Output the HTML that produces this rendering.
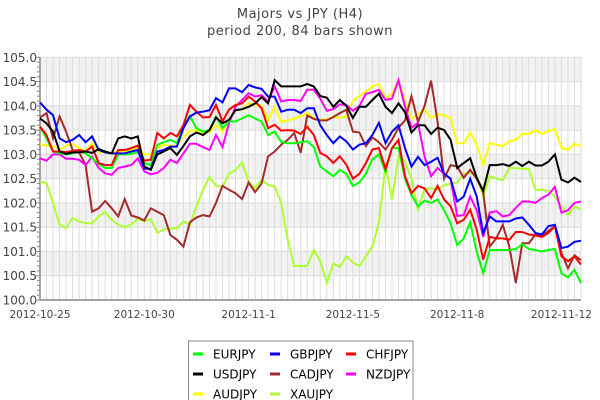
<!DOCTYPE html>
<html><head><meta charset="utf-8">
<style>
html,body{margin:0;padding:0;background:#fff;}
svg{display:block;font-family:"DejaVu Sans","Liberation Sans",sans-serif;}
</style></head>
<body>
<svg id="chart" width="600" height="400" viewBox="0 0 600 400" xmlns="http://www.w3.org/2000/svg">
<text x="300" y="18" text-anchor="middle" font-size="13" fill="#444" letter-spacing="0.5">Majors vs JPY (H4)</text>
<text x="300" y="35" text-anchor="middle" font-size="13" fill="#444" letter-spacing="0.5">period 200, 84 bars shown</text>
<g id="plot"></g>
<g id="legend"></g>
</svg>
<script>
const xTickLabels = ["2012-10-25","2012-10-30","2012-11-1","2012-11-5","2012-11-8","2012-11-12"];
const xTickIndex = [0,16,32,48,64,80];
const yTicks = [100.0,100.5,101.0,101.5,102.0,102.5,103.0,103.5,104.0,104.5,105.0];
const seriesNames = ["EURJPY","GBPJPY","CHFJPY","USDJPY","CADJPY","NZDJPY","AUDJPY","XAUJPY"];
const EURJPY = [103.57,103.33,103.06,103.02,103.0,103.02,103.06,103.02,102.92,102.8,102.72,102.72,103.0,103.0,103.01,103.05,102.82,102.78,103.2,103.25,
103.3,103.23,103.57,103.79,103.54,103.47,103.5,103.78,103.54,103.68,103.68,103.74,103.81,103.74,103.68,103.4,103.47,103.26,103.23,103.23,
103.25,103.27,103.15,102.75,102.65,102.55,102.68,102.6,102.35,102.42,102.6,102.9,103.0,102.65,103.13,103.13,102.5,102.16,101.93,102.05,102.0,102.07,101.85,101.58,101.13,101.27,101.6,101.0,100.55,101.03,101.03,101.03,101.03,101.05,101.15,101.05,101.03,101.0,101.03,101.05,100.55,100.47,100.62,100.35];
const GBPJPY = [104.07,103.92,103.81,103.33,103.25,103.3,103.4,103.25,103.37,103.09,103.04,103.02,103.02,103.02,103.06,103.09,102.71,102.7,103.06,103.09,
103.16,103.16,103.54,103.78,103.86,103.88,103.91,104.16,104.07,104.36,104.36,104.28,104.43,104.38,104.35,104.19,104.19,103.88,103.92,103.92,
103.85,103.95,103.95,103.6,103.4,103.23,103.37,103.27,103.1,103.2,103.23,103.4,103.65,103.23,103.47,103.6,103.13,102.75,102.95,102.78,102.85,102.93,102.6,102.5,102.03,102.13,102.5,102.13,101.38,101.72,101.62,101.62,101.62,101.68,101.7,101.55,101.38,101.35,101.52,101.55,101.07,101.1,101.2,101.22];
const CHFJPY = [103.57,103.4,103.06,103.06,103.05,103.07,103.09,103.06,103.16,102.82,102.78,102.78,103.09,103.09,103.13,103.18,102.87,102.89,103.44,103.33,
103.44,103.37,103.6,104.02,103.88,103.76,103.77,104.02,103.68,103.92,104.02,104.05,104.19,104.09,103.95,103.54,103.61,103.49,103.5,103.49,
103.42,103.57,103.4,103.03,102.96,102.82,102.96,102.79,102.5,102.6,102.82,103.1,103.13,102.7,103.13,103.3,102.55,102.2,102.35,102.3,102.1,102.35,102.07,101.93,101.58,101.65,101.86,101.45,100.83,101.3,101.27,101.27,101.24,101.4,101.4,101.35,101.33,101.3,101.38,101.52,100.9,100.8,100.9,100.73];
const USDJPY = [103.74,103.64,103.47,103.06,103.01,103.04,103.04,103.06,103.03,103.11,103.06,103.02,103.33,103.37,103.33,103.37,102.75,102.68,103.0,103.06,
103.13,102.99,103.17,103.37,103.45,103.4,103.5,103.76,103.64,103.71,103.91,103.93,103.98,104.05,104.18,104.05,104.53,104.4,104.4,104.4,
104.4,104.45,104.4,104.2,104.17,103.98,104.12,104.0,103.75,103.98,103.98,104.12,104.25,103.98,103.85,104.05,103.87,103.45,103.6,103.6,103.42,103.55,103.5,103.3,102.72,102.82,102.92,102.52,102.25,102.78,102.78,102.8,102.76,102.85,102.76,102.85,102.77,102.77,102.85,103.0,102.48,102.42,102.52,102.43];
const CADJPY = [103.76,103.85,103.33,103.78,103.47,103.09,103.04,102.78,101.82,101.89,102.04,101.89,101.72,102.08,101.74,101.7,101.64,101.89,101.82,101.75,
101.34,101.24,101.1,101.6,101.7,101.75,101.72,102.0,102.35,102.27,102.2,102.08,102.42,102.22,102.4,102.96,103.06,103.2,103.3,103.44,
103.03,103.8,103.73,103.7,103.7,103.77,103.85,103.92,103.47,103.45,103.17,103.35,103.25,103.1,103.3,103.55,103.7,104.2,103.67,104.0,104.52,103.67,102.5,102.78,102.75,102.52,102.68,102.5,102.23,101.1,101.27,101.55,101.1,100.35,101.17,101.17,101.35,101.32,101.42,101.52,100.97,100.65,100.92,100.82];
const NZDJPY = [102.92,102.87,103.0,103.0,102.91,102.91,102.89,102.78,102.95,102.72,102.61,102.58,102.72,102.75,102.78,102.92,102.65,102.59,102.62,102.72,
102.89,102.82,103.02,103.22,103.22,103.15,103.09,103.4,103.15,103.64,103.98,104.12,104.26,104.19,104.22,104.09,104.4,104.09,104.12,104.12,
104.1,104.33,104.33,104.15,103.9,103.93,104.03,104.02,103.9,104.0,104.25,104.28,104.33,104.12,104.15,104.53,103.98,103.55,103.65,102.95,102.55,102.72,102.6,102.5,101.73,101.75,102.13,101.85,101.3,101.8,101.83,101.72,101.75,101.9,102.03,102.03,102.0,102.1,102.17,102.33,101.8,101.85,102.0,102.03];
const AUDJPY = [103.21,103.18,103.17,103.09,103.18,103.21,103.13,103.06,103.23,103.04,103.05,103.02,103.07,103.05,103.09,103.13,103.0,103.0,103.13,103.2,
103.17,103.19,103.35,103.49,103.49,103.45,103.46,103.61,103.47,103.71,103.91,103.92,104.05,104.02,104.0,103.71,103.98,103.67,103.7,103.74,
103.78,103.85,103.75,103.72,103.72,103.78,103.75,103.78,104.1,104.2,104.3,104.4,104.45,104.15,104.25,104.53,104.1,103.73,103.83,103.92,103.75,103.83,103.8,103.75,103.23,103.23,103.45,103.2,102.78,103.23,103.2,103.17,103.27,103.3,103.42,103.42,103.5,103.42,103.48,103.52,103.13,103.1,103.22,103.17];
const XAUJPY = [102.44,102.41,102.0,101.55,101.48,101.69,101.62,101.58,101.58,101.72,101.81,101.65,101.55,101.5,101.56,101.67,101.62,101.67,101.38,101.45,
101.47,101.48,101.62,101.55,101.93,102.27,102.53,102.35,102.33,102.6,102.68,102.83,102.44,102.3,102.48,102.37,102.34,102.0,101.24,100.7,
100.7,100.7,101.03,100.8,100.35,100.75,100.68,100.9,100.77,100.7,100.9,101.1,101.6,102.78,102.07,102.95,102.85,102.5,101.86,102.3,102.3,102.27,102.37,102.4,102.42,102.6,102.62,102.55,102.13,102.55,102.5,102.47,102.72,102.72,102.7,102.7,102.27,102.27,102.25,102.13,101.93,101.75,101.93,101.86];

const NS = "http://www.w3.org/2000/svg";
const L = 40, R = 581, T = 57.3, B = 300;
const yMin = 100, yMax = 105;
const nBars = EURJPY.length;
function xScale(i){ return L + i * (R - L) / (nBars - 1); }
function yScale(v){ return B - (v - yMin) / (yMax - yMin) * (B - T); }
function mk(tag, attrs, parent){ const e = document.createElementNS(NS, tag); for (const k in attrs) e.setAttribute(k, attrs[k]); parent.appendChild(e); return e; }

const plot = document.getElementById('plot');
for (let k = 0; k < yTicks.length - 1; k++) {
  const top = yTicks[yTicks.length - 1 - k], bot = yTicks[yTicks.length - 2 - k];
  const band = mk('rect', {x: L, y: yScale(top), width: R - L, height: yScale(bot) - yScale(top), fill: k % 2 === 0 ? '#f2f2f2' : '#ffffff'}, plot);
  
  
}
for (let i = 0; i < nBars; i++) {
  const g = mk('line', {x1: xScale(i), x2: xScale(i), y1: T, y2: B, stroke: '#dcdcdc', 'stroke-width': 1}, plot);
  
  
}
yTicks.forEach(v => {
  const g = mk('line', {x1: L, x2: R, y1: yScale(v), y2: yScale(v), stroke: '#dcdcdc', 'stroke-width': 1}, plot);
  
  
  const t = mk('text', {x: 37, y: yScale(v) + 4.5, 'text-anchor': 'end', 'font-size': 12, fill: '#444'}, plot);
  
  
  t.textContent = v.toFixed(1);
});
for (let k = 0; k <= 50; k++) {
  const y = yScale(yMin + k * 0.1);
  const tk = mk('line', {x1: k % 5 === 0 ? 35 : 37, x2: L, y1: y, y2: y, stroke: '#888', 'stroke-width': 1}, plot);
  
  
}
xTickLabels.forEach((lab, j) => {
  const t = mk('text', {x: xScale(xTickIndex[j]), y: 318, 'text-anchor': 'middle', 'font-size': 10.5, fill: '#444'}, plot);
  
  
  t.textContent = lab;
});
const ax1 = mk('line', {x1: L, x2: L, y1: T, y2: B, stroke: '#888', 'stroke-width': 1.5}, plot);


const ax2 = mk('line', {x1: L, x2: R, y1: B, y2: B, stroke: '#888', 'stroke-width': 1.5}, plot);



const seriesData = [EURJPY, GBPJPY, CHFJPY, USDJPY, CADJPY, NZDJPY, AUDJPY, XAUJPY];
const colors = ['#00ff00','#0000ff','#ff0000','#000000','#a52a2a','#ff00ff','#ffff00','#adff2f'];
const drawOrder = [7,6,4,5,0,2,1,3];
drawOrder.forEach(s => {
  const pts = seriesData[s].map((v, i) => xScale(i).toFixed(1) + ',' + yScale(v).toFixed(1)).join(' ');
  const pl = mk('polyline', {points: pts, fill: 'none', stroke: colors[s], 'stroke-width': 2, 'stroke-linejoin': 'miter'}, plot);
  
  
});

const lg = document.getElementById('legend');
const box = mk('rect', {x: 188.5, y: 341, width: 224.5, height: 70, fill: '#fff', stroke: '#888', 'stroke-width': 1}, lg);


const colX = [193, 270, 346];
const rowY = [354, 374, 394];
seriesNames.forEach((n, s) => {
  const c = s % 3, r = Math.floor(s / 3);
  const g = mk('g', {}, lg);
  
  
  mk('line', {x1: colX[c], x2: colX[c] + 10, y1: rowY[r], y2: rowY[r], stroke: colors[s], 'stroke-width': 3}, g);
  const t = mk('text', {x: colX[c] + 20, y: rowY[r] + 4.5, 'font-size': 12, fill: '#000'}, g);
  t.textContent = n;
});
</script>
</body></html>
